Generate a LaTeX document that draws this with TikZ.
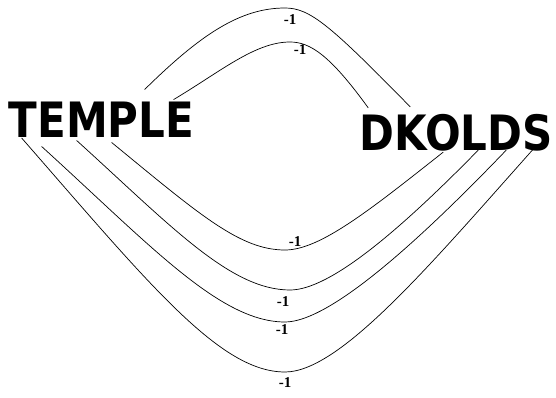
\documentclass[tikz,border=0pt]{standalone}
\usepackage{fontspec}
\usetikzlibrary{calc}
\newfontfamily\wordfont{DejaVu Sans}
\newfontfamily\lblfont{Liberation Serif}
\begin{document}
\begin{tikzpicture}[x=1pt,y=-1pt,
  word/.style={inner sep=0pt, font=\wordfont\bfseries\fontsize{42}{42}\selectfont},
  edge/.style={draw=black, line width=0.7pt},
  lbl/.style={inner sep=0pt, font=\lblfont\bfseries\fontsize{15}{15}\selectfont}]
\useasboundingbox (0,0) rectangle (556,398);
\node[word] (T) at (101.5,120) {\scalebox{1}[1.16]{TEMPLE}};
\node[word] (D) at (456,133) {\scalebox{1}[1.16]{DKOLDS}};
% top curves
\draw[edge] ($(T.north west)+(136,-12.5)$) .. controls (200,35) and (240,8) .. (285,8)
  .. controls (310,8) and (330,25) .. ($(D.north west)+(51,-7.5)$);
\draw[edge] ($(T.north west)+(165,-2.5)$) .. controls (220,72) and (255,42) .. (290,42)
  .. controls (310,42) and (330,55) .. ($(D.north west)+(9,-6.5)$);
% bottom curves
\draw[edge] ($(T.south west)+(103,4.5)$) .. controls (200,215) and (240,250) .. (285,250)
  .. controls (320,250) and (370,210) .. ($(D.south west)+(84,0.5)$);
\draw[edge] ($(T.south west)+(68,2.5)$) .. controls (170,225) and (230,290) .. (290,290)
  .. controls (330,290) and (400,230) .. ($(D.south west)+(119,-1.5)$);
\draw[edge] ($(T.south west)+(33,8.5)$) .. controls (150,245) and (220,322) .. (285,322)
  .. controls (330,322) and (420,240) .. ($(D.south west)+(147,-1.5)$);
\draw[edge] ($(T.south west)+(13,0)$) .. controls (150,285) and (220,372) .. (285,372)
  .. controls (340,372) and (430,265) .. ($(D.south west)+(174,-2.5)$);
% labels
\node[lbl] (l1) at (290,20) {-1};
\node[lbl] (l2) at (300,50) {-1};
\node[lbl] (l3) at (295,242) {-1};
\node[lbl] (l4) at (283,302) {-1};
\node[lbl] (l5) at (282,330) {-1};
\node[lbl] (l6) at (285,383) {-1};
\end{tikzpicture}
\end{document}
